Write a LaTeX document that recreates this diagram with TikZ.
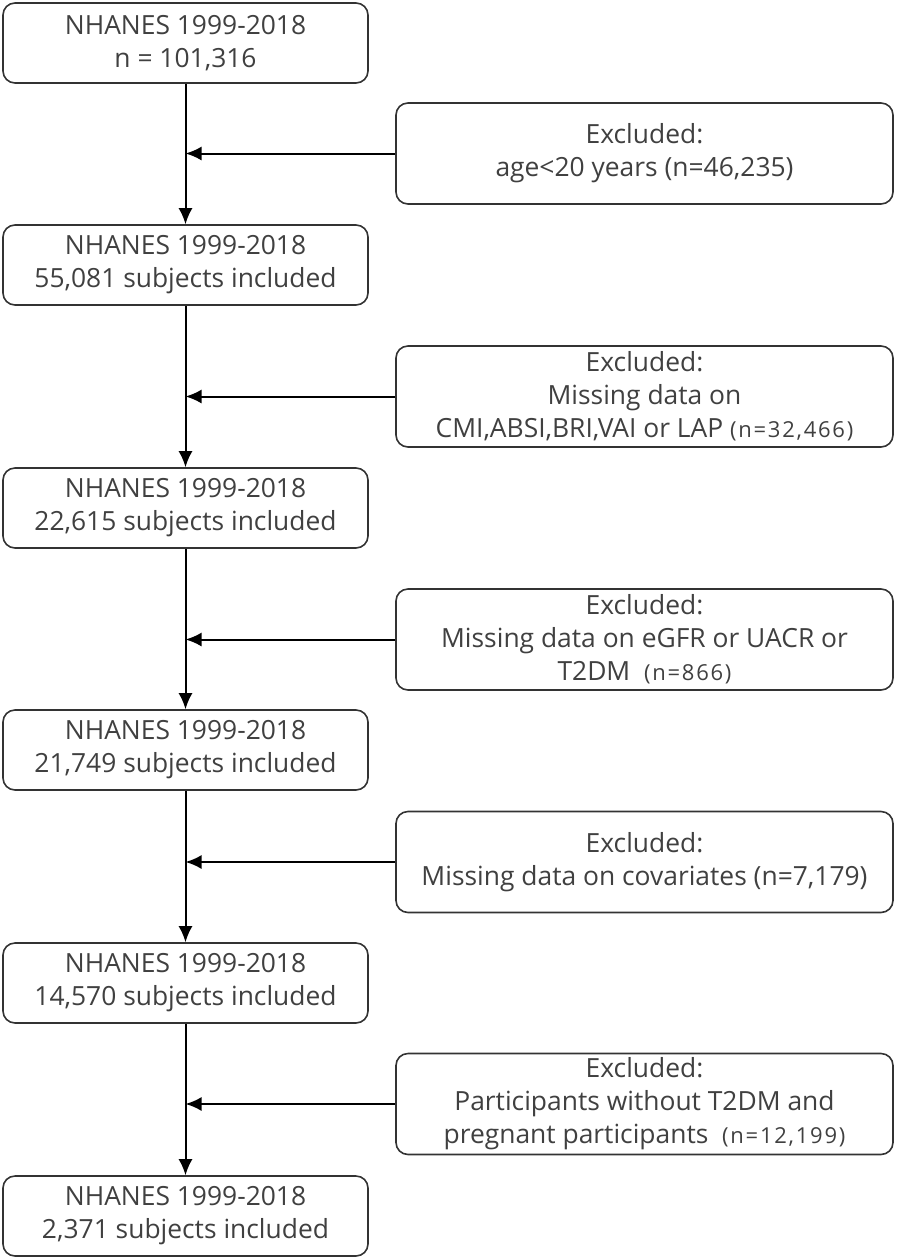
\documentclass[tikz,border=0pt]{standalone}
\usepackage{fontspec}
\setmainfont{Open Sans}
\usetikzlibrary{arrows.meta}
\newcommand{\nsmall}[1]{{\fontsize{11}{12}\selectfont\addfontfeature{LetterSpace=8}#1}}
\begin{document}
\begin{tikzpicture}[x=0.5pt,y=-0.5pt,
  stagebox/.style={draw=black!80,line width=0.8pt,rounded corners=6pt,
    minimum width=182.5pt,minimum height=40pt,inner sep=0pt,align=center,
    text=black!75,font=\fontsize{13.2}{16.5}\selectfont},
  exclbox/.style={stagebox,minimum width=248.5pt,minimum height=50.5pt},
  flow/.style={-{Latex[length=8pt,width=7pt]},line width=1pt,black}]
  \useasboundingbox (0,0) rectangle (896,1260);

  % main stages
  \node[stagebox] (s1) at (185.5,43)   {NHANES 1999-2018\\n = 101,316};
  \node[stagebox] (s2) at (185.5,265)  {NHANES 1999-2018\\55,081 subjects included};
  \node[stagebox] (s3) at (185.5,508)  {NHANES 1999-2018\\22,615 subjects included};
  \node[stagebox] (s4) at (185.5,750)  {NHANES 1999-2018\\21,749 subjects included};
  \node[stagebox] (s5) at (185.5,983)  {NHANES 1999-2018\\14,570 subjects included};
  \node[stagebox] (s6) at (185.5,1216) {NHANES 1999-2018\\2,371 subjects included};

  % exclusions
  \node[exclbox] (x1) at (644.5,153.5) {Excluded:\\age<20 years (n=46,235)};
  \node[exclbox] (x2) at (644.5,396.5) {Excluded:\\Missing data on\\CMI,ABSI,BRI,VAI or LAP \nsmall{(n=32,466)}};
  \node[exclbox] (x3) at (644.5,639.5) {Excluded:\\Missing data on eGFR or UACR or\\T2DM~~\nsmall{(n=866)}};
  \node[exclbox] (x4) at (644.5,862)   {Excluded:\\Missing data on covariates (n=7,179)};
  \node[exclbox] (x5) at (644.5,1104)  {Excluded:\\Participants without T2DM and\\pregnant participants~~\nsmall{(n=12,199)}};

  \coordinate (j1) at (185.5,153.5);
  \coordinate (j2) at (185.5,396.5);
  \coordinate (j3) at (185.5,639.5);
  \coordinate (j4) at (185.5,862);
  \coordinate (j5) at (185.5,1104);

  \draw[flow] (s1) -- (s2);
  \draw[flow] (s2) -- (s3);
  \draw[flow] (s3) -- (s4);
  \draw[flow] (s4) -- (s5);
  \draw[flow] (s5) -- (s6);

  \draw[flow] (x1) -- (j1);
  \draw[flow] (x2) -- (j2);
  \draw[flow] (x3) -- (j3);
  \draw[flow] (x4) -- (j4);
  \draw[flow] (x5) -- (j5);
\end{tikzpicture}
\end{document}
